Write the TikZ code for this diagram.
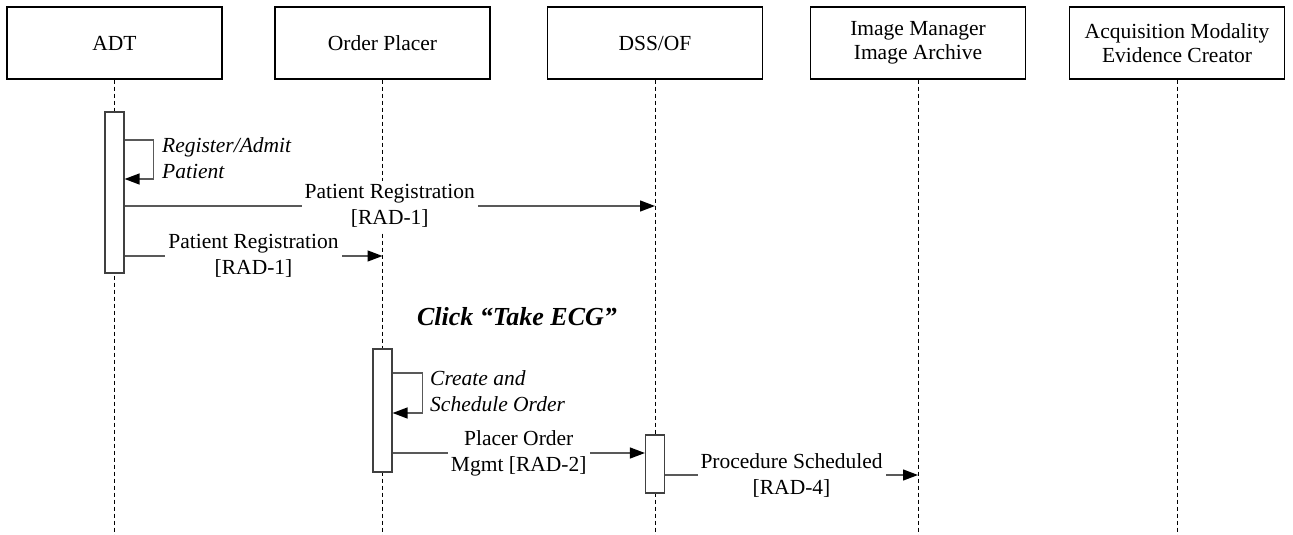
\documentclass[tikz,border=0pt]{standalone}
\usepackage{fontspec}
\setmainfont{Liberation Serif}
\usetikzlibrary{arrows.meta}
\begin{document}
\begin{tikzpicture}[x=1pt,y=-1pt,
  actor/.style={draw=black, line width=1.3pt, minimum width=215pt, minimum height=72pt, align=center, font=\fontsize{21.5}{23.5}\selectfont, inner sep=0pt},
  life/.style={line width=0.8pt, dash pattern=on 4pt off 3pt},
  bar/.style={draw=black!75, line width=1.2pt, fill=white, minimum width=19pt, inner sep=0pt},
  msg/.style={draw=black!65, line width=1.3pt, -{Triangle[length=15pt,width=11pt,color=black,fill=black]}},
  lbl/.style={fill=white, align=center, font=\fontsize{21.5}{26}\selectfont, inner sep=3pt},
  note/.style={align=left, anchor=west, font=\fontsize{21.5}{26}\selectfont\itshape, inner sep=0pt},
]
\useasboundingbox (0,0) rectangle (1293,535);
% actors
\node[actor] (adt) at (114.5,43) {ADT};
\node[actor] (op)  at (382.5,43) {Order Placer};
\node[actor] (dss) at (655,43) {DSS/OF};
\node[actor] (im)  at (918,43) {Image Manager\\Image Archive};
\node[actor] (am)  at (1177,43) {Acquisition Modality\\Evidence Creator};
% levels
\coordinate (ybot) at (0,535);
\coordinate (y140) at (0,140);
\coordinate (y179) at (0,179);
\coordinate (y206) at (0,206);
\coordinate (y256) at (0,256);
\coordinate (y373) at (0,373);
\coordinate (y413) at (0,413);
\coordinate (y453) at (0,453);
\coordinate (y475) at (0,475);
% lifelines
\coordinate (adtend) at (adt.south |- ybot);
\coordinate (opend)  at (op.south |- ybot);
\coordinate (dssend) at (dss.south |- ybot);
\coordinate (imend)  at (im.south |- ybot);
\coordinate (amend)  at (am.south |- ybot);
\draw[life] (adt.south) -- (adtend);
\draw[life] (op.south) -- (opend);
\draw[life] (dss.south) -- (dssend);
\draw[life] (im.south) -- (imend);
\draw[life] (am.south) -- (amend);
% activation bars
\node[bar, minimum height=161pt] (adtbar) at (114.5,192.5) {};
\node[bar, minimum height=123pt] (opbar) at (382.5,410.5) {};
\node[bar, minimum height=58pt] (dssbar) at (655,464) {};
% self messages
\draw[msg] (adtbar.east |- y140) -- ++(29,0) |- (adtbar.east |- y179);
\node[note] (n1) at (162,158) {Register/Admit\\Patient};
\draw[msg] (opbar.east |- y373) -- ++(30,0) |- (opbar.east |- y413);
\node[note] (n2) at (430,391.5) {Create and\\Schedule Order};
% messages
\draw[msg] (adtbar.east |- y206) -- (dss.south |- y206)
  node[lbl, midway] (l1) {Patient Registration\\{[RAD-1]}};
\draw[msg] (adtbar.east |- y256) -- (op.south |- y256)
  node[lbl, midway] (l2) {Patient Registration\\{[RAD-1]}};
\draw[msg] (opbar.east |- y453) -- (dssbar.west |- y453)
  node[lbl, midway] (l3) {Placer Order\\Mgmt {[RAD-2]}};
\draw[msg] (dssbar.east |- y475) -- (im.south |- y475)
  node[lbl, midway] (l4) {Procedure Scheduled\\{[RAD-4]}};
% heading
\node[font=\fontsize{26}{30}\selectfont\bfseries\itshape] (click) at (517,317) {Click “Take ECG”};
\end{tikzpicture}
\end{document}
